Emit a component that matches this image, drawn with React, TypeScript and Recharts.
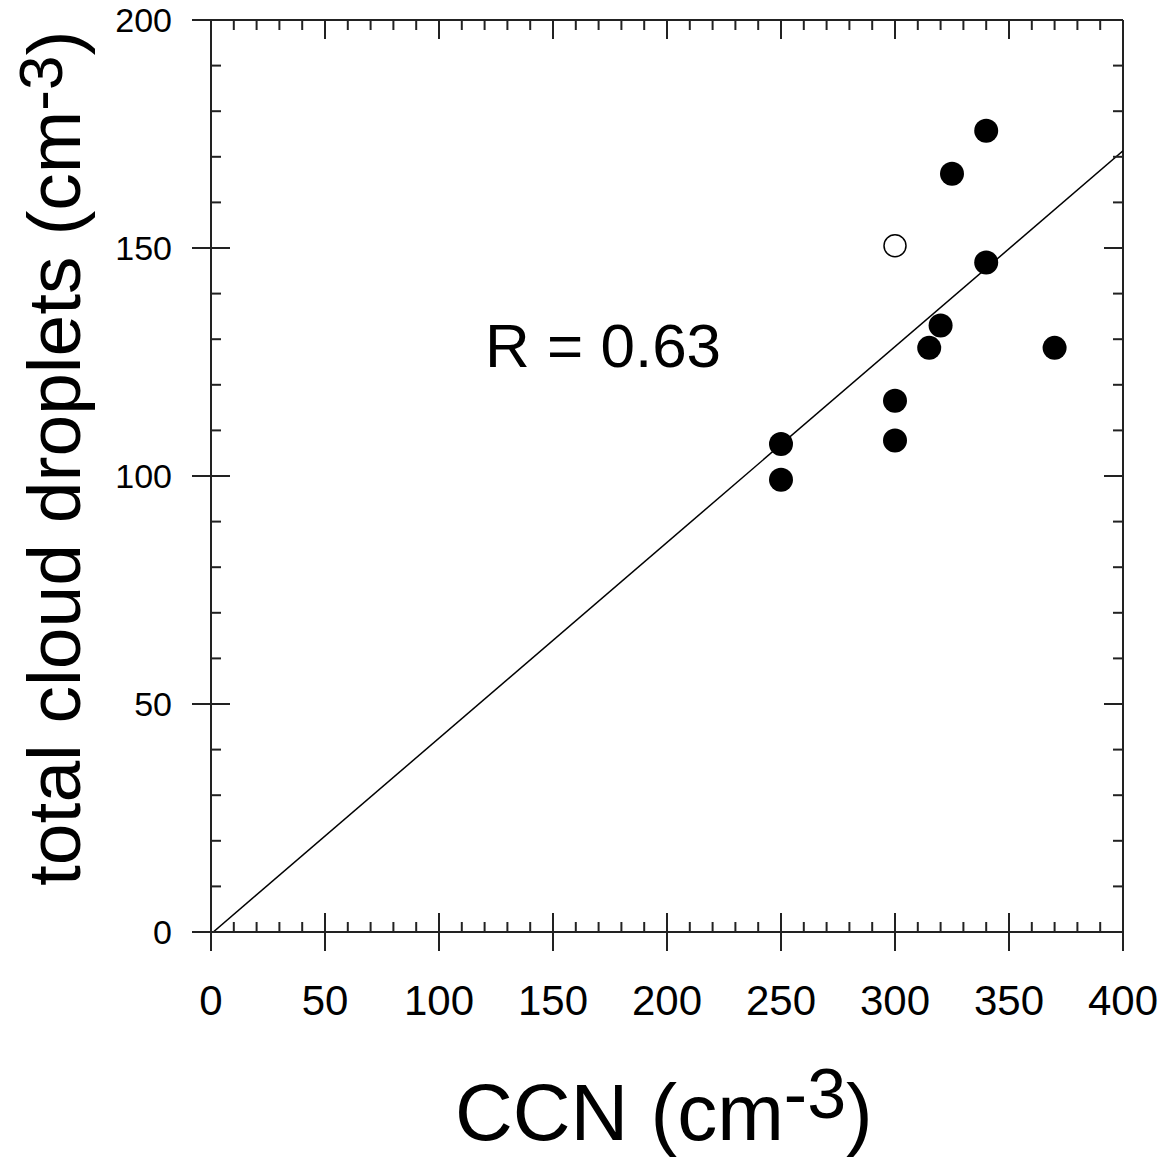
import { ScatterChart, Scatter, XAxis, YAxis } from "recharts";

// droplets vs CCN
const filledPoints = [
  { x: 250, y: 107 },
  { x: 250, y: 99.2 },
  { x: 300, y: 107.8 },
  { x: 300, y: 116.5 },
  { x: 315, y: 128.1 },
  { x: 320, y: 133 },
  { x: 325, y: 166.3 },
  { x: 340, y: 175.7 },
  { x: 340, y: 146.8 },
  { x: 370, y: 128.1 },
];
const openPoints = [{ x: 300, y: 150.5 }];
const fitLine = [
  { x: 1, y: 0 },
  { x: 400, y: 171.3 },
];

const xTicks = [
  0, 10, 20, 30, 40, 50, 60, 70, 80, 90, 100, 110, 120, 130, 140, 150, 160, 170, 180, 190, 200,
  210, 220, 230, 240, 250, 260, 270, 280, 290, 300, 310, 320, 330, 340, 350, 360, 370, 380, 390, 400,
];
const yTicks = [
  0, 10, 20, 30, 40, 50, 60, 70, 80, 90, 100, 110, 120, 130, 140, 150, 160, 170, 180, 190, 200,
];
const xMajor = [0, 50, 100, 150, 200, 250, 300, 350, 400];
const yMajor = [0, 50, 100, 150, 200];

const FONT = '"Liberation Sans", Arial, sans-serif';
const INK = "#222";

const BottomTick = ({ x, y, payload }: any) => {
  const major = xMajor.includes(payload.value);
  return (
    <g>
      <line x1={x} x2={x} y1={major ? y - 19 : y - 10} y2={major ? y + 19 : y} stroke={INK} strokeWidth={2} />
      {major && (
        <text x={x} y={y + 83} textAnchor="middle" fontSize={42} fontFamily={FONT} fill="#000">
          {payload.value}
        </text>
      )}
    </g>
  );
};

const TopTick = ({ x, y, payload }: any) => {
  const major = xMajor.includes(payload.value);
  return <line x1={x} x2={x} y1={y} y2={y + (major ? 19 : 10)} stroke={INK} strokeWidth={2} />;
};

const LeftTick = ({ x, y, payload }: any) => {
  const major = yMajor.includes(payload.value);
  return (
    <g>
      <line x1={major ? x - 19 : x} x2={x + (major ? 19 : 10)} y1={y} y2={y} stroke={INK} strokeWidth={2} />
      {major && (
        <text x={x - 39} y={y + 12} textAnchor="end" fontSize={34} fontFamily={FONT} fill="#000">
          {payload.value}
        </text>
      )}
    </g>
  );
};

const RightTick = ({ x, y, payload }: any) => {
  const major = yMajor.includes(payload.value);
  return <line x1={x - (major ? 19 : 10)} x2={x} y1={y} y2={y} stroke={INK} strokeWidth={2} />;
};

const Dot = (p: any) => <circle cx={p.cx} cy={p.cy} r={12} fill="#000" />;
const OpenDot = (p: any) => <circle cx={p.cx} cy={p.cy} r={11} fill="#fff" stroke="#000" strokeWidth={1.5} />;

const axisLine = { stroke: INK, strokeWidth: 2 };

export default function App() {
  return (
    <div style={{ position: "absolute", left: 0, top: 0, background: "#fff" }}>
      <ScatterChart width={1172} height={1161} margin={{ top: 19, right: 48, bottom: 228, left: 210 }}>
        <XAxis
          type="number"
          dataKey="x"
          domain={[0, 400]}
          ticks={xTicks}
          interval={0}
          tickSize={0}
          tickMargin={0}
          tickLine={false}
          axisLine={axisLine}
          tick={<BottomTick />}
          height={1}
          allowDataOverflow
        />
        <XAxis
          xAxisId="top"
          orientation="top"
          type="number"
          dataKey="x"
          domain={[0, 400]}
          ticks={xTicks}
          interval={0}
          tickSize={0}
          tickMargin={0}
          tickLine={false}
          axisLine={axisLine}
          tick={<TopTick />}
          height={1}
          allowDataOverflow
        />
        <YAxis
          type="number"
          dataKey="y"
          domain={[0, 200]}
          ticks={yTicks}
          interval={0}
          tickSize={0}
          tickMargin={0}
          tickLine={false}
          axisLine={axisLine}
          tick={<LeftTick />}
          width={1}
          allowDataOverflow
        />
        <YAxis
          yAxisId="right"
          orientation="right"
          type="number"
          dataKey="y"
          domain={[0, 200]}
          ticks={yTicks}
          interval={0}
          tickSize={0}
          tickMargin={0}
          tickLine={false}
          axisLine={axisLine}
          tick={<RightTick />}
          width={1}
          allowDataOverflow
        />
        <Scatter
          data={fitLine}
          line={{ stroke: "#000", strokeWidth: 1.5 }}
          shape={() => null}
          isAnimationActive={false}
        />
        <Scatter data={filledPoints} shape={Dot} isAnimationActive={false} />
        <Scatter data={openPoints} shape={OpenDot} isAnimationActive={false} />
        <text x={485} y={367} fontSize={62} fontFamily={FONT} fill="#000">
          R = 0.63
        </text>
        <text x={455} y={1140} fontSize={80} fontFamily={FONT} fill="#000">
          CCN (cm<tspan dy={-22} fontSize={70}>-3</tspan>
          <tspan dy={22} fontSize={80}>)</tspan>
        </text>
        <text transform="translate(80, 886) rotate(-90)" fontSize={75} fontFamily={FONT} fill="#000">
          total cloud droplets (cm<tspan dy={-18} fontSize={62}>-3</tspan>
          <tspan dy={18} fontSize={75}>)</tspan>
        </text>
      </ScatterChart>
    </div>
  );
}
